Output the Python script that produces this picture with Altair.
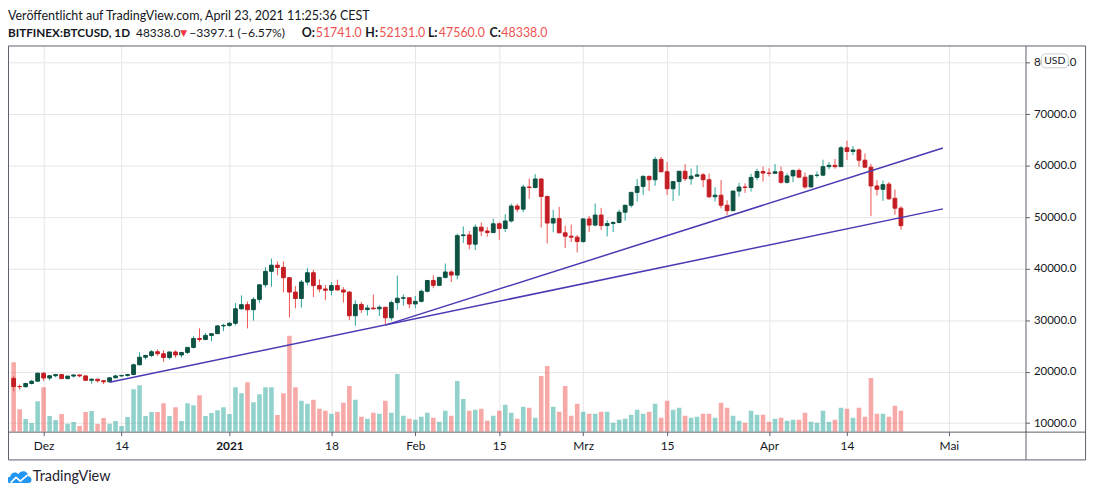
import altair as alt
import pandas as pd

FONT = "Lato"
TXT = "#131722"
RED_TXT = "#ef5350"
FRAME = "#5d606b"
GRID = "#e6e6e6"

# ---------------- data ----------------
dates = pd.date_range("2020-11-26", "2021-04-23", freq="D").strftime("%Y-%m-%d").tolist()

opens = [
    18700, 17120, 17080, 17700, 18150,
    19690, 18760, 19210, 19430, 18650, 19140, 19360, 19170, 18320, 18540, 18250, 18030, 18800, 19170, 19270, 19440,
    21330, 22800, 23130, 23860, 23480, 22740, 23820, 23240, 23730, 24710, 26440, 26250, 27040, 27370, 28880,
    28980, 29390, 32200, 33000, 32020, 34030, 36860, 39470, 40670, 40240, 38240, 35450, 34200, 37390, 39200, 36700,
    36050, 35800, 36700, 35850, 35450, 30850, 33050, 32050, 32350, 32200, 32500, 30450, 33400, 34250, 34350,
    33150, 33650, 35600, 37700, 36750, 38300, 39350, 38750, 46400, 46550, 44750, 48050, 47300, 47000, 48700, 47800,
    49250, 52150, 51550, 55850, 55750, 57400, 54000, 48850, 49700, 46950, 46300, 46100,
    45250, 49650, 48450, 50400, 48350, 48750, 48950, 50950, 52300, 54800, 55950, 57900, 57250, 61200, 58800, 55500,
    56900, 58900, 57450, 57950, 58200, 57250, 53950, 54250, 52300, 51250, 55050, 55850, 55750, 57700, 58850,
    58550, 58500, 58800, 56750, 58000, 59050, 57750, 55850, 58100, 58150, 59800, 60050, 59800, 63450, 62750, 63050,
    61050, 59700, 56050, 55400, 56400, 53650, 51741,
]
highs = [
    19100, 17500, 17850, 18350, 19860,
    19920, 19300, 19560, 19500, 19160, 19420, 19410, 19280, 18640, 18560, 18280, 18950, 19400, 19330, 19560, 21550,
    23780, 23300, 24200, 24300, 24150, 23860, 24120, 23800, 24800, 26870, 28400, 27500, 27400, 29020, 29300,
    29650, 33300, 34800, 33600, 34470, 36950, 40300, 41950, 41400, 41400, 38300, 36600, 37800, 40100, 39750, 37900,
    36800, 37400, 37850, 36400, 35600, 33850, 33500, 32950, 34950, 32900, 32550, 33800, 38650, 34950, 34400,
    34700, 35950, 37700, 38700, 38300, 41000, 39650, 46800, 48200, 47300, 48600, 48950, 48050, 49700, 49000, 50580,
    52600, 52600, 56300, 57500, 58350, 57520, 54200, 51400, 52000, 48300, 48550, 46550,
    49800, 50250, 52650, 51800, 49400, 49200, 51450, 52400, 54900, 57400, 58150, 58100, 61700, 61700, 60700, 56950,
    58950, 60250, 59450, 60050, 58550, 58450, 55800, 57200, 53250, 55150, 56650, 56550, 58400, 59400, 59800,
    59500, 60300, 59800, 58500, 59250, 59450, 58650, 58150, 58850, 61150, 60700, 61300, 63800, 64850, 63800, 63300,
    62350, 60350, 57150, 57100, 56800, 55350, 52131,
]
lows = [
    16200, 16520, 16900, 17520, 18100,
    18200, 18320, 18900, 18580, 18530, 18880, 18900, 18200, 17650, 17900, 17570, 18000, 18710, 19000, 19050, 19300,
    21250, 22370, 22800, 23080, 21900, 22380, 22700, 22720, 23440, 24500, 25800, 26100, 25880, 27320, 27850,
    28700, 28980, 32000, 28400, 29900, 33400, 36350, 36500, 38700, 35400, 30500, 32300, 32450, 36750, 34500, 35400,
    33900, 34800, 35900, 33400, 30000, 28900, 31400, 30900, 32050, 30800, 29250, 29900, 31950, 32850, 32300,
    32300, 33420, 35380, 36200, 36600, 38100, 37400, 37900, 45000, 43750, 43600, 46300, 46200, 46900, 45600, 47080,
    48950, 50950, 50950, 53550, 55550, 48000, 44900, 47050, 46850, 44000, 45150, 43150,
    45050, 47100, 48200, 47500, 46250, 47100, 48800, 49300, 51850, 53000, 54300, 55100, 56100, 58700, 54300, 53100,
    54150, 57000, 56300, 57850, 55800, 53700, 53000, 51700, 50400, 51200, 53950, 54700, 54950, 57150, 56900,
    57900, 58450, 56500, 56500, 56800, 57700, 55500, 55750, 57650, 57950, 59300, 59400, 59750, 61100, 62050, 59800,
    59600, 50200, 54200, 53150, 53350, 50450, 47560,
]
closes = [
    17100, 17080, 17700, 18150, 19690,
    18760, 19210, 19430, 18650, 19140, 19360, 19170, 18320, 18540, 18250, 18030, 18800, 19170, 19270, 19440, 21330,
    22800, 23130, 23860, 23480, 22740, 23820, 23240, 23730, 24710, 26440, 26250, 27040, 27370, 28880, 28980,
    29390, 32200, 33000, 32020, 34030, 36860, 39470, 40670, 40240, 38240, 35450, 34200, 37390, 39200, 36700, 36050,
    35800, 36700, 35850, 35450, 30850, 33050, 32050, 32350, 32200, 32500, 30450, 33400, 34250, 34350, 33150,
    33650, 35600, 37700, 36750, 38300, 39350, 38750, 46400, 46550, 44750, 48050, 47300, 47000, 48700, 47800, 49250,
    52150, 51550, 55850, 55750, 57400, 54000, 48850, 49700, 46950, 46300, 46100, 45250,
    49650, 48450, 50400, 48350, 48750, 48950, 50950, 52300, 54800, 55950, 57900, 57250, 61200, 58800, 55500, 56900,
    58900, 57450, 57950, 58200, 57250, 53950, 54250, 52300, 51250, 55050, 55850, 55750, 57700, 58850, 58550,
    58500, 58800, 56750, 58000, 59050, 57750, 55850, 58100, 58150, 59800, 60050, 59800, 63450, 62750, 63050, 61050,
    59700, 56050, 55400, 56300, 53550, 51741, 48338,
]
volumes = [
    21000, 6800, 3800, 2600, 9200,
    13400, 4700, 3500, 5300, 2400, 2900, 1700, 5900, 6200, 2300, 4100, 2400, 3200, 1700, 4400, 12800,
    14000, 4700, 5900, 5900, 8600, 4700, 7400, 3200, 8600, 8000, 11000, 4700, 5600, 6500, 7400,
    5300, 13400, 11600, 14900, 8900, 11300, 13400, 13400, 5000, 11600, 29000, 13400, 9300, 8400, 9600, 6900,
    6300, 5400, 6000, 8700, 13800, 9600, 4500, 3900, 5700, 5400, 9300, 5700, 17400, 4800, 3900,
    3600, 4500, 5700, 4200, 3000, 6300, 4800, 15300, 9900, 6300, 6600, 6900, 3300, 4800, 6300, 8100,
    5700, 3900, 7500, 7200, 4200, 16800, 19800, 7500, 6000, 13800, 4800, 8400,
    6000, 5400, 5400, 6000, 6000, 2700, 3600, 3900, 5100, 6600, 5400, 6000, 8400, 4200, 9300, 6600,
    7200, 4800, 4200, 4500, 5400, 5400, 4200, 8700, 7200, 4800, 3300, 2700, 6300, 5100, 5100,
    3000, 3900, 4200, 3300, 3600, 3600, 5700, 3000, 2700, 6300, 3000, 3600, 7200, 6900, 4200, 7200,
    4500, 16200, 5400, 5400, 4500, 7800, 6300,
]

trend_ids = ["A", "A", "B", "B"]
trend_dates = ["2020-12-12", "2021-04-30", "2021-01-27", "2021-04-30"]
trend_prices = [17934, 51598, 29033, 63411]

tick_dates = ["2020-12-01", "2020-12-14", "2021-01-01", "2021-01-18", "2021-02-01", "2021-02-15",
              "2021-03-01", "2021-03-15", "2021-04-01", "2021-04-14", "2021-05-01"]
price_ticks = [10000, 20000, 30000, 40000, 50000, 60000, 70000, 80000]

df = pd.DataFrame({"date": dates, "open": opens, "high": highs, "low": lows,
                   "close": closes, "volume": volumes})
trend = pd.DataFrame({"id": trend_ids, "date": trend_dates, "price": trend_prices})
one = pd.DataFrame({"k": [0]})


def ms(s):
    return int(pd.Timestamp(s, tz="UTC").value // 10**6)


# ---------------- scales / axes ----------------
xscale = alt.Scale(type="utc", domain=[ms("2020-11-25T21:15:00"), ms("2021-05-12T22:48:00")])
xaxis = alt.Axis(
    values=[ms(d) for d in tick_dates],
    labelExpr="utcdate(datum.value) == 1 ? (utcmonth(datum.value) == 0 ? utcFormat(datum.value, '%Y') : "
              "['Jan','Feb','Mrz','Apr','Mai','Jun','Jul','Aug','Sep','Okt','Nov','Dez'][utcmonth(datum.value)]) "
              ": utcFormat(datum.value, '%d')",
    labelFontWeight={"condition": {"test": "utcmonth(datum.value) == 0 && utcdate(datum.value) == 1",
                                   "value": "bold"}, "value": "normal"},
    title=None, grid=True, gridColor=GRID, domainColor=FRAME, tickColor=FRAME,
    tickSize=4, labelPadding=5, labelFont=FONT, labelFontSize=12, labelColor=TXT,
)
X = alt.X("date:T", scale=xscale, axis=xaxis)

yscale = alt.Scale(domain=[8356, 83317], nice=False, zero=False)
yaxis = alt.Axis(
    orient="right", values=price_ticks, format=".1f", title=None, grid=True, gridColor=GRID,
    domainColor=FRAME, tickColor=FRAME, tickSize=4, labelPadding=4, labelFont=FONT,
    labelFontSize=11.5, labelColor=TXT,
)
vscale = alt.Scale(domain=[0, 116700], nice=False, zero=True)

up = "datum.close >= datum.open"

base = alt.Chart(df)

volume = base.mark_bar(width=4.6, opacity=0.5, clip=True).encode(
    x=X,
    y=alt.Y("volume:Q", scale=vscale, axis=None),
    color=alt.condition(up, alt.value("#26a69a"), alt.value("#ef5350")),
)

wicks = base.mark_rule(strokeWidth=1, clip=True).encode(
    x=X,
    y=alt.Y("low:Q", scale=yscale, axis=yaxis),
    y2="high:Q",
    color=alt.condition(up, alt.value("#26a69a"), alt.value("#ef5350")),
)
bodies = base.mark_bar(width=3.8, strokeWidth=1, clip=True).encode(
    x=X,
    y=alt.Y("open:Q", scale=yscale, axis=yaxis),
    y2="close:Q",
    color=alt.condition(up, alt.value("#0d5242"), alt.value("#c41e24")),
    stroke=alt.condition(up, alt.value("#0d5242"), alt.value("#c41e24")),
)
lines = alt.Chart(trend).mark_line(strokeWidth=1.5, color="#4a3ab4").encode(
    x=X,
    y=alt.Y("price:Q", scale=yscale, axis=yaxis),
    detail="id:N",
)
price = alt.layer(wicks, bodies, lines)


def txt(s, x, y, size=12.5, color=TXT, weight="normal", font=FONT, align="left"):
    return alt.Chart(one).mark_text(
        align=align, baseline="middle", font=font, fontSize=size, color=color, fontWeight=weight
    ).encode(x=alt.value(x), y=alt.value(y), text=alt.value(s))


# frame
frame = alt.Chart(one).mark_rect(fill="transparent", stroke=FRAME, strokeWidth=1).encode(
    x=alt.value(0.5), x2=alt.value(1085.5), y=alt.value(0.5), y2=alt.value(417.5))
sep_v = alt.Chart(one).mark_rule(color=FRAME, strokeWidth=1).encode(
    x=alt.value(1025.5), y=alt.value(389), y2=alt.value(417.5))
sep_h = alt.Chart(one).mark_rule(color=FRAME, strokeWidth=1).encode(
    x=alt.value(1025), x2=alt.value(1085.5), y=alt.value(389.5))

# USD badge
badge = alt.Chart(one).mark_rect(fill="white", stroke="#c9ccd4", strokeWidth=1, cornerRadius=4).encode(
    x=alt.value(1041), x2=alt.value(1068), y=alt.value(8.5), y2=alt.value(22.5))
badge_t = txt("USD", 1054.5, 15.7, size=10.5, align="center")

# header
L1, L2 = -29.3, -13.0
header = [
    txt("Veröffentlicht auf TradingView.com, April 23, 2021 11:25:36 CEST", 0, L1, size=12.6),
    txt("BITFINEX:BTCUSD, 1D", 0, L2, weight="bold", size=11.8),
    txt("48338.0", 129, L2, size=12),
    txt("▼", 173.5, L2, size=9, color="#f23645", font="DejaVu Sans"),
    txt("−3397.1 (−6.57%)", 182.5, L2, size=12.3),
    txt("O:", 296, L2, weight="bold", size=12.5),
    txt("51741.0", 310, L2, color=RED_TXT, size=12.5),
    txt("H:", 360, L2, weight="bold", size=12.5),
    txt("52131.0", 374, L2, color=RED_TXT, size=12.5),
    txt("L:", 423, L2, weight="bold", size=12.5),
    txt("47560.0", 434, L2, color=RED_TXT, size=12.5),
    txt("C:", 485, L2, weight="bold", size=12.5),
    txt("48338.0", 497, L2, color=RED_TXT, size=12.5),
]

# logo: cloud symbol + word mark
cloud_path = ("M -0.95 0.55 C -1.35 0.55 -1.35 -0.05 -0.9 -0.05 C -0.85 -0.5 -0.3 -0.6 -0.1 -0.3 "
              "C 0.1 -0.75 0.85 -0.7 0.85 -0.1 C 1.3 -0.1 1.3 0.55 0.9 0.55 Z")
logo_icon = alt.Chart(one).mark_point(
    shape=cloud_path, filled=True, color="#2196f3", opacity=1, size=420
).encode(x=alt.value(11.5), y=alt.value(435))
zig = alt.Chart(one).mark_point(
    shape="M -0.9 0.45 L -0.35 -0.1 L 0.1 0.3 L 0.85 -0.35", filled=False, color="white",
    strokeWidth=1.6, opacity=1, size=380
).encode(x=alt.value(11.5), y=alt.value(436))
logo_text = txt("TradingView", 25, 435, size=14.5, color="#1e222d")

chart = alt.layer(
    volume, price, frame, sep_v, sep_h, badge, badge_t, logo_icon, zig, logo_text, *header
).resolve_scale(y="independent").properties(
    width=1025, height=389,
    padding={"left": 0, "top": 36, "right": 67, "bottom": 52},
    autosize=alt.AutoSizeParams(type="none"),
    background="white",
).configure_view(stroke=None)

chart.save("out.html", embed_options={"renderer": "svg", "actions": False})
